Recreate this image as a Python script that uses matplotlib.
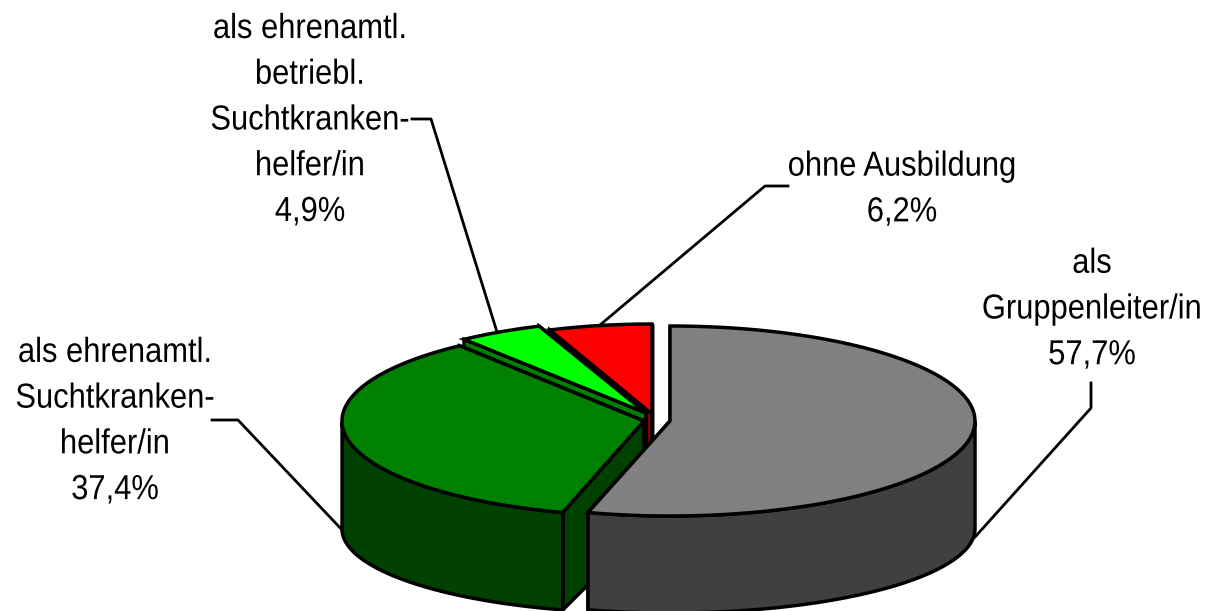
import numpy as np
from matplotlib import pyplot as plt
from matplotlib.patches import Polygon
from matplotlib.patheffects import AbstractPathEffect
from matplotlib.transforms import Affine2D

labels = [
    "als\nGruppenleiter/in\n57,7%",
    "als ehrenamtl.\nSuchtkranken-\nhelfer/in\n37,4%",
    "als ehrenamtl.\nbetriebl.\nSuchtkranken-\nhelfer/in\n4,9%",
    "ohne Ausbildung\n6,2%",
]
shares = [57.7, 37.4, 4.9, 6.2]
top_colors = ["#808080", "#008000", "#00FF00", "#FF0000"]
side_colors = ["#404040", "#004000", "#008000", "#800000"]

# slice centres and radii in pixels, exploded by hand
centers = [(670, 421), (644, 421), (646, 413), (652, 414)]
radii_x = [305, 302, 298, 285]
radii_y = [95, 95, 93, 90]
label_pos = [(1092, 309), (115, 421), (310, 120), (902, 189)]
leaders = [
    [(1091, 383), (1091, 408), (975, 537)],
    [(212, 420), (238, 420), (345, 533)],
    [(412, 119), (431, 119), (497, 332)],
    [(788, 186), (765, 186), (600, 325)],
]

DEPTH, RY_BOTTOM = 108, 84


class SqueezeX(AbstractPathEffect):
    # the reference text is narrower than any installed font
    def __init__(self, x0, sx):
        super().__init__()
        self.squeeze = Affine2D().translate(-x0, 0).scale(sx, 1).translate(x0, 0)

    def draw_path(self, renderer, gc, tpath, affine, rgbFace=None):
        renderer.draw_path(gc, tpath, affine + self.squeeze, rgbFace)


plt.rcParams["font.family"] = ["Liberation Sans"]

fig = plt.figure(figsize=(12.22, 6.11), dpi=100)
ax = fig.add_axes([0, 0, 1, 1])
ax.set_xlim(0, 1222)
ax.set_ylim(611, 0)
ax.axis("off")

edges = np.cumsum([0] + shares) / sum(shares) * 2 * np.pi
style = dict(ec="black", lw=2.5, joinstyle="miter")

# draw from the back slice to the front one
for i in [3, 2, 1, 0]:
    c = centers[i]
    rx, ry = radii_x[i], radii_y[i]
    t0, t1 = edges[i], edges[i + 1]
    ts = np.linspace(t0, t1, 120)

    def top_pt(t):
        return c[0] + rx * np.sin(t), c[1] - ry * np.cos(t)

    def bottom_pt(t):
        return c[0] + rx * np.sin(t), c[1] + DEPTH - RY_BOTTOM * np.cos(t)

    # radial cut faces
    for t in (t1, t0):
        face = [c, top_pt(t), bottom_pt(t), (c[0], c[1] + DEPTH)]
        ax.add_patch(Polygon(face, fc=side_colors[i], **style))

    # outer wall, only the part facing the viewer
    front = ts[(ts > np.pi / 2) & (ts < 3 * np.pi / 2)]
    if len(front):
        wall = [top_pt(t) for t in front] + [bottom_pt(t) for t in front[::-1]]
        ax.add_patch(Polygon(wall, fc=side_colors[i], **style))

    top = [c] + [top_pt(t) for t in ts]
    ax.add_patch(Polygon(top, fc=top_colors[i], **style))

for pts in leaders:
    xs, ys = zip(*pts)
    ax.plot(xs, ys, color="black", lw=2.0, zorder=0.5)

for text, (x, y) in zip(labels, label_pos):
    ax.text(x, y, text, ha="center", va="center", fontsize=25, linespacing=1.49,
            color="black", path_effects=[SqueezeX(x, 0.89)])

plt.savefig("out.png", dpi=100)
